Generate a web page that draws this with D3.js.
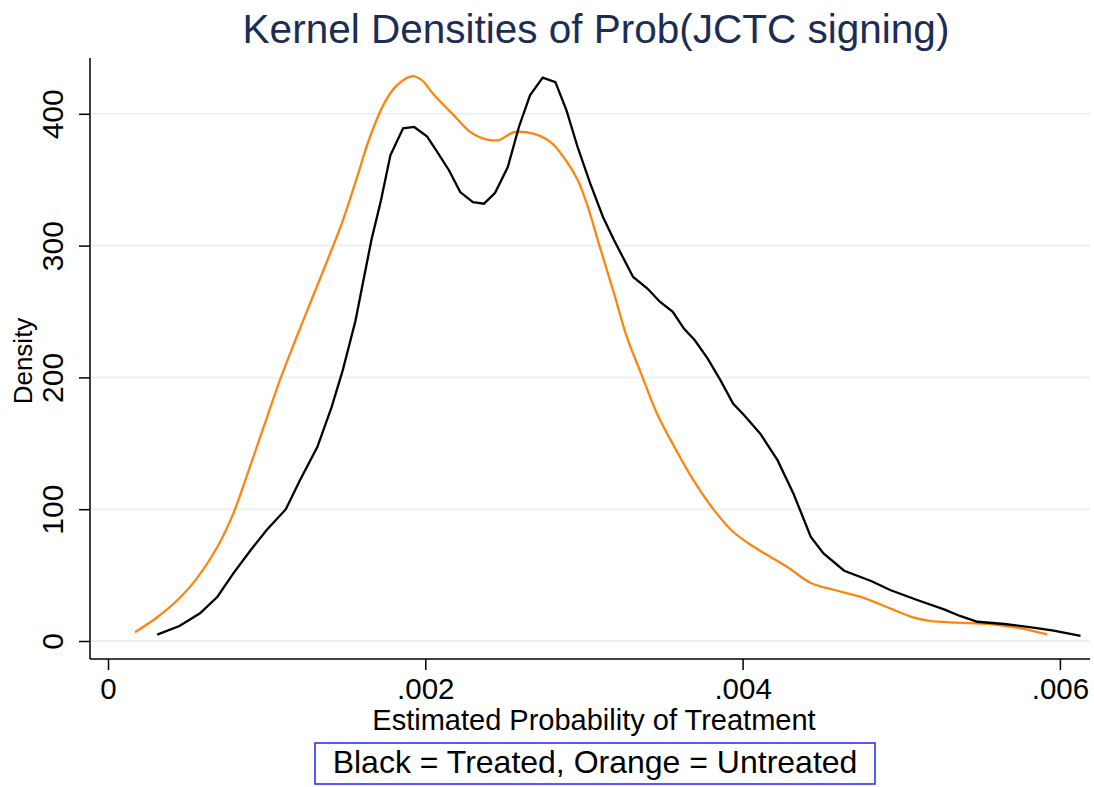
<!DOCTYPE html>
<html>
<head>
<meta charset="utf-8">
<script src="https://cdn.jsdelivr.net/npm/d3@7"></script>
<style>
  body { margin: 0; background: #fff; }
  text { font-family: Arial, "Liberation Sans", sans-serif; }
</style>
</head>
<body>
<div id="chart"></div>
<script>
// kernel density curves
let untreatedX = [0.00017, 0.00031, 0.00045, 0.00056, 0.00069, 0.00079, 0.00088, 0.00098, 0.00109, 0.00118,
  0.00129, 0.00140, 0.00148, 0.00157, 0.00165, 0.00174, 0.00182, 0.00192, 0.00198, 0.00205, 0.00218,
  0.00230, 0.00245, 0.00256, 0.00268, 0.00279, 0.00289, 0.00296, 0.00302, 0.00310, 0.00319, 0.00327,
  0.00336, 0.00346, 0.00357, 0.00369, 0.00382, 0.00394, 0.00407, 0.00428, 0.00443, 0.00458, 0.00474,
  0.00493, 0.00508, 0.00518, 0.00535, 0.00556, 0.00573, 0.00592];
let untreatedY = [6.6, 18, 32.4, 47.5, 71.5, 96.8, 127, 162, 200, 228,
  261, 294, 319, 352, 382, 407.7, 421.5, 428.6, 425.3, 415, 398.8,
  384.9, 379.8, 386, 384.9, 378.5, 364, 350, 331, 299, 263.6, 230.7,
  203, 172.6, 147.3, 122, 99.3, 82.9, 71.5, 56.3, 44, 38.7, 33.6,
  24.8, 17.7, 15.2, 13.9, 12.9, 10.1, 5];

let treatedX = [0.00031, 0.00045, 0.00058, 0.00069, 0.00079, 0.00090, 0.00100, 0.00112, 0.00121, 0.00132,
  0.00141, 0.00148, 0.00156, 0.00161, 0.00166, 0.00172, 0.00178, 0.00186, 0.00193, 0.00201, 0.00207,
  0.00215, 0.00222, 0.00230, 0.00237, 0.00244, 0.00252, 0.00259, 0.00266, 0.00274, 0.00282, 0.00289,
  0.00296, 0.00304, 0.00312, 0.00319, 0.00331, 0.00340, 0.00348, 0.00356, 0.00363, 0.00370, 0.00378,
  0.00386, 0.00394, 0.00401, 0.00411, 0.00422, 0.00432, 0.00443, 0.00451, 0.00464, 0.00481, 0.00493,
  0.00510, 0.00527, 0.00537, 0.00548, 0.00565, 0.00582, 0.00596, 0.00613];
let treatedY = [4.8, 11.4, 21, 33.6, 51.3, 69, 84.2, 99.8, 122, 147.3,
  177.6, 205.5, 243, 273.7, 304, 334, 368.5, 389, 390, 383, 372,
  357, 340.6, 333, 331.8, 340, 359.6, 390, 414, 427.4, 424, 402.6,
  374.8, 347, 321.7, 304, 276.2, 267.4, 257.2, 249.7, 237, 228, 214.3,
  197.9, 180.2, 171.3, 157.5, 137.2, 112, 79, 66.5, 53.3, 45.5, 38.7,
  31.1, 24, 19, 14.6, 12.9, 10.4, 7.8, 3.8];

let xTicks = [0, 0.002, 0.004, 0.006];
let yTicks = [0, 100, 200, 300, 400];

let titleText = "Kernel Densities of Prob(JCTC signing)";
let xTitle = "Estimated Probability of Treatment";
let yTitle = "Density";
let legendText = "Black = Treated, Orange = Untreated";

let W = 1094, H = 787;
let plotLeft = 90, plotRight = 1090, plotTop = 58, plotBottom = 659;

let svg = d3.select("#chart").append("svg")
  .attr("width", W)
  .attr("height", H);

// scales: 0 -> 108px, .002 -> 425px ; 0 -> 641px, 400 -> 114px
let x = d3.scaleLinear().domain([0, 0.002]).range([108, 425.3]);
let y = d3.scaleLinear().domain([0, 400]).range([641, 113.8]);

// gridlines
svg.append("g")
  .selectAll("line")
  .data(yTicks)
  .enter()
  .append("line")
  .attr("x1", plotLeft + 1)
  .attr("x2", plotRight)
  .attr("y1", d => y(d))
  .attr("y2", d => y(d))
  .attr("stroke", "#eaf2f3")
  .attr("stroke-width", 2);

// curves
let untreated = untreatedX.map((v, i) => [v, untreatedY[i]]);
let treated = treatedX.map((v, i) => [v, treatedY[i]]);

let smoothLine = d3.line()
  .x(d => x(d[0]))
  .y(d => y(d[1]))
  .curve(d3.curveCatmullRom.alpha(0.5));

let plainLine = d3.line()
  .x(d => x(d[0]))
  .y(d => y(d[1]));

svg.append("path")
  .datum(untreated)
  .attr("d", smoothLine)
  .attr("fill", "none")
  .attr("stroke", "#ff8410")
  .attr("stroke-width", 2.3);

svg.append("path")
  .datum(treated)
  .attr("d", plainLine)
  .attr("fill", "none")
  .attr("stroke", "#000")
  .attr("stroke-width", 2.3);

// axes
let xAxis = d3.axisBottom(x)
  .tickValues(xTicks)
  .tickSize(11)
  .tickSizeOuter(0)
  .tickFormat(d => d === 0 ? "0" : d3.format(".3f")(d).replace(/^0/, ""));

let gx = svg.append("g")
  .attr("transform", "translate(0," + plotBottom + ")")
  .call(xAxis);
gx.select(".domain").remove();
gx.append("line")
  .attr("x1", plotLeft).attr("x2", plotRight)
  .attr("stroke", "#000").attr("stroke-width", 1.5);
gx.selectAll(".tick line").attr("stroke-width", 1.5);
gx.selectAll(".tick text")
  .attr("font-size", 29.5)
  .attr("fill", "#000")
  .attr("y", 19)
  .attr("dy", "0.71em");

let yAxis = d3.axisLeft(y)
  .tickValues(yTicks)
  .tickSize(11)
  .tickSizeOuter(0);

let gy = svg.append("g")
  .attr("transform", "translate(" + plotLeft + ",0)")
  .call(yAxis);
gy.select(".domain").remove();
gy.append("line")
  .attr("y1", plotTop).attr("y2", plotBottom)
  .attr("stroke", "#000").attr("stroke-width", 1.5);
gy.selectAll(".tick line").attr("stroke-width", 1.5);
gy.selectAll(".tick text")
  .attr("font-size", 30)
  .attr("fill", "#000")
  .attr("x", null)
  .attr("dy", null)
  .attr("text-anchor", "middle")
  .attr("transform", "translate(-27,0) rotate(-90)");

// titles
svg.append("text")
  .attr("x", 596)
  .attr("y", 43)
  .attr("text-anchor", "middle")
  .attr("font-size", 40.5)
  .attr("fill", "#1c2d55")
  .text(titleText);

svg.append("text")
  .attr("x", 594)
  .attr("y", 730)
  .attr("text-anchor", "middle")
  .attr("font-size", 29)
  .attr("fill", "#000")
  .text(xTitle);

svg.append("text")
  .attr("transform", "translate(32,361) rotate(-90)")
  .attr("text-anchor", "middle")
  .attr("font-size", 26)
  .attr("fill", "#000")
  .text(yTitle);

// legend note box
svg.append("rect")
  .attr("x", 315)
  .attr("y", 743)
  .attr("width", 560)
  .attr("height", 41)
  .attr("fill", "#fff")
  .attr("stroke", "#2222ff")
  .attr("stroke-width", 1.5);

svg.append("text")
  .attr("x", 595)
  .attr("y", 773)
  .attr("text-anchor", "middle")
  .attr("font-size", 32)
  .attr("fill", "#000")
  .text(legendText);
</script>
</body>
</html>
